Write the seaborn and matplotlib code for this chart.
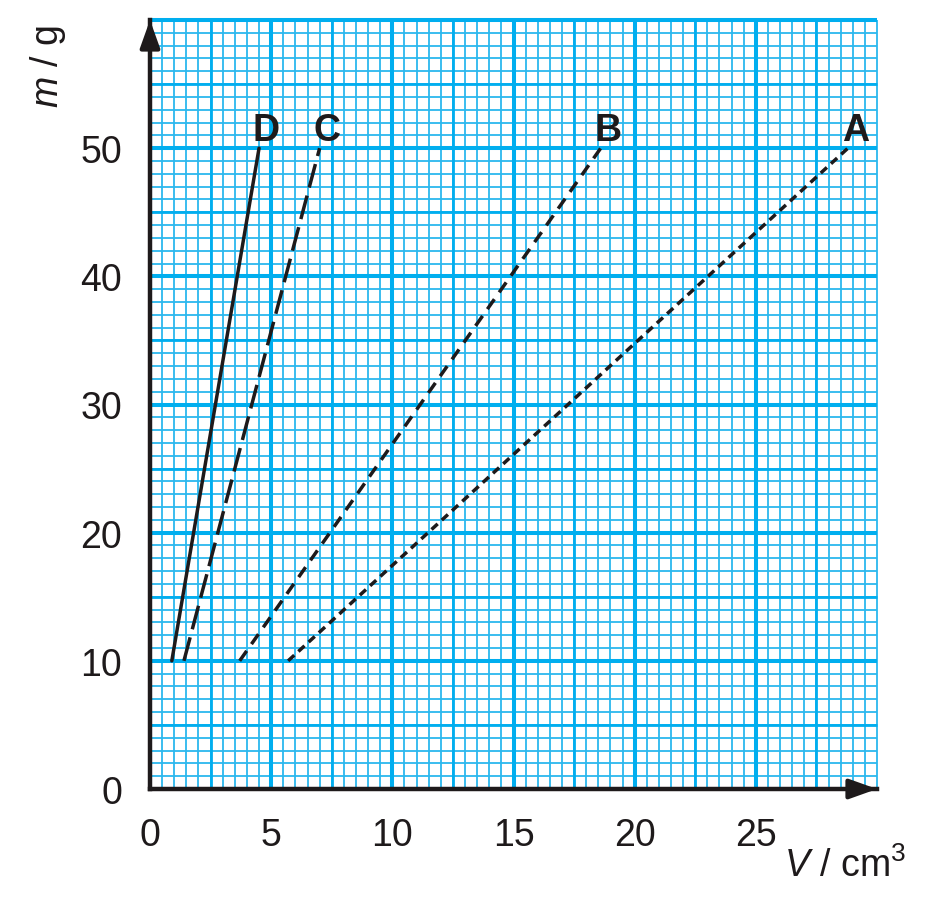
"""
Gráfica masa-volumen (m / g frente a V / cm3) para cuatro materiales A-D
sobre papel milimetrado. Guarda la figura en 'out.png'.
"""

import numpy as np
import pandas as pd
import matplotlib
matplotlib.use('Agg')
import matplotlib.pyplot as plt
import seaborn as sns

# Datos
masa = [10, 50]
vol_A = [5.7, 28.8]
vol_B = [3.7, 18.6]
vol_C = [1.4, 7.0]
vol_D = [0.9, 4.5]
etiquetas = ['A', 'B', 'C', 'D']
x_ticks = [0, 5, 10, 15, 20, 25]
y_ticks = [0, 10, 20, 30, 40, 50]


def main():
    sns.set_theme(style='white')
    plt.rcParams['font.family'] = ['Liberation Sans', 'DejaVu Sans']
    plt.rcParams['mathtext.fontset'] = 'custom'
    plt.rcParams['mathtext.rm'] = 'Liberation Sans'
    plt.rcParams['mathtext.it'] = 'Liberation Sans:italic'

    negro = '#1E1A1B'
    azul = '#00AEEF'
    azul_fino = '#2BB8EE'

    volumenes = {'A': vol_A, 'B': vol_B, 'C': vol_C, 'D': vol_D}
    df = pd.DataFrame({
        'V': [v for e in etiquetas for v in volumenes[e]],
        'm': [m for e in etiquetas for m in masa],
        'linea': [e for e in etiquetas for _ in masa],
    })

    fig = plt.figure(figsize=(9.48, 9.12), dpi=100)
    ax = fig.add_axes([150 / 948, 1 - 790 / 912, 727 / 948, 769 / 912])
    ax.set_xlim(0, 30)
    ax.set_ylim(0, 60)

    # Papel milimetrado: tres grosores de línea
    ax.vlines(np.arange(0, 30.01, 0.5), 0, 60, color=azul_fino, lw=1.3, zorder=0, clip_on=False)
    ax.hlines(np.arange(0, 60.01, 1), 0, 30, color=azul_fino, lw=1.3, zorder=0, clip_on=False)
    ax.vlines(np.arange(2.5, 30, 5), 0, 60, color=azul, lw=2.0, zorder=0.5, clip_on=False)
    ax.hlines(np.arange(5, 60, 10), 0, 30, color=azul, lw=2.0, zorder=0.5, clip_on=False)
    ax.vlines(np.arange(5, 30, 5), 0, 60, color=azul, lw=2.9, zorder=0.6, clip_on=False)
    ax.hlines(np.arange(10, 60.01, 10), 0, 30, color=azul, lw=2.9, zorder=0.6, clip_on=False)

    # Rectas de cada material
    sns.lineplot(
        data=df, x='V', y='m', hue='linea', style='linea',
        palette={e: negro for e in etiquetas},
        dashes={'A': (2.4, 1.6), 'B': (3.5, 2.4), 'C': (7.0, 2.4), 'D': ''},
        estimator=None, legend=False, lw=2.5, ax=ax, zorder=3,
    )

    for e in etiquetas:
        ax.text(volumenes[e][1] + 0.3, 50.6, e, ha='center', va='baseline',
                fontsize=27, fontweight='bold', color=negro, zorder=4)

    # Ejes con flechas
    for lado in ['top', 'right']:
        ax.spines[lado].set_visible(False)
    for lado in ['left', 'bottom']:
        ax.spines[lado].set_linewidth(3.2)
        ax.spines[lado].set_color(negro)
        ax.spines[lado].set_zorder(5)
    estilo_flecha = '-|>,head_length=1.4,head_width=0.5'
    ax.annotate('', xy=(0, 1.0), xycoords='axes fraction', xytext=(0, 0.97),
                arrowprops=dict(arrowstyle=estilo_flecha, color=negro, lw=3,
                                shrinkA=0, shrinkB=0))
    ax.annotate('', xy=(1.0, 0), xycoords='axes fraction', xytext=(0.97, 0),
                arrowprops=dict(arrowstyle=estilo_flecha, color=negro, lw=3,
                                shrinkA=0, shrinkB=0))

    ax.set_xticks(x_ticks)
    ax.set_yticks(y_ticks)
    ax.set_xticklabels([str(t) for t in x_ticks])
    ax.set_yticklabels([str(t) for t in y_ticks])
    ax.tick_params(direction='out', length=8, width=3.2, color=negro,
                   labelsize=27, labelcolor=negro, pad=12)
    ax.set_xlabel('')
    ax.set_ylabel('')

    fig.text(48 / 948, 1 - 67 / 912, r'$\it{m}$ / g', rotation=90, ha='center', va='center',
             fontsize=27, color=negro)
    fig.text(845 / 948, 1 - 866 / 912, r'$\it{V}$ / cm$^3$', ha='center', va='center',
             fontsize=27, color=negro)

    fig.savefig('out.png', dpi=100, facecolor='white')
    plt.close(fig)


if __name__ == "__main__":
    main()
